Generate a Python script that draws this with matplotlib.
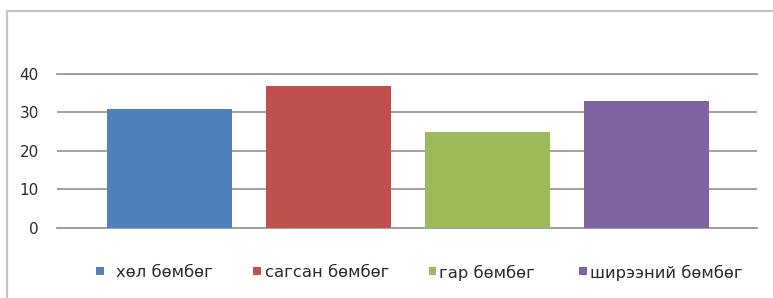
import matplotlib
matplotlib.use("Agg")
import matplotlib.pyplot as plt
from matplotlib.patches import Rectangle

categories = ["хөл бөмбөг", "сагсан бөмбөг", "гар бөмбөг", "ширээний бөмбөг"]
values = [31, 37, 25, 33]
colors = ["#4F81BD", "#C0504D", "#9BBB59", "#8064A2"]
yticks = [0, 10, 20, 30, 40]

W, H = 773, 298
plt.rcParams['font.family'] = ['DejaVu Sans']
fig = plt.figure(figsize=(W / 100, H / 100), dpi=100)

# outer chart border (partially cut off at right/bottom)
fig.patches.append(Rectangle((7 / W, -0.2), 1.0, (H - 11) / H + 0.2,
                             transform=fig.transFigure, fill=False,
                             edgecolor="#c6c6c6", linewidth=1.6))

ax = fig.add_axes([57 / W, 1 - 227.5 / H, 700 / W, (227.5 - 74) / H])
x = list(range(len(values)))
ax.bar(x, values, width=0.79, color=colors, zorder=3)

ax.set_ylim(0, 40)
ax.set_xlim(-0.707, 3.694)
ax.set_yticks(yticks)
ax.set_xticks([])
for s in ax.spines.values():
    s.set_visible(False)
ax.yaxis.grid(True, color="#9a9a9a", linewidth=1.3, zorder=0)
ax.set_axisbelow(True)
ax.tick_params(axis='y', length=0, pad=13, labelsize=11, labelcolor="#2a2a2a")
ax.axhline(0, color="#9a9a9a", linewidth=1.3, zorder=1, clip_on=False)
ax.axhline(40, color="#9a9a9a", linewidth=1.3, zorder=1, clip_on=False)

# legend, placed item by item (figure pixel coordinates)
sq_x = [96, 253, 429, 579]
tx_x = [116, 265, 439, 590]
ly = 271
for c, lab, sx, tx in zip(colors, categories, sq_x, tx_x):
    fig.patches.append(Rectangle((sx / W, 1 - (ly + 3.5) / H), 7.5 / W, 7.5 / H,
                                 transform=fig.transFigure, facecolor=c,
                                 edgecolor='none'))
    fig.text(tx / W, 1 - ly / H, lab, ha='left', va='center_baseline',
             fontsize=11.8, color="#2a2a2a")

fig.savefig("out.png", dpi=100)
